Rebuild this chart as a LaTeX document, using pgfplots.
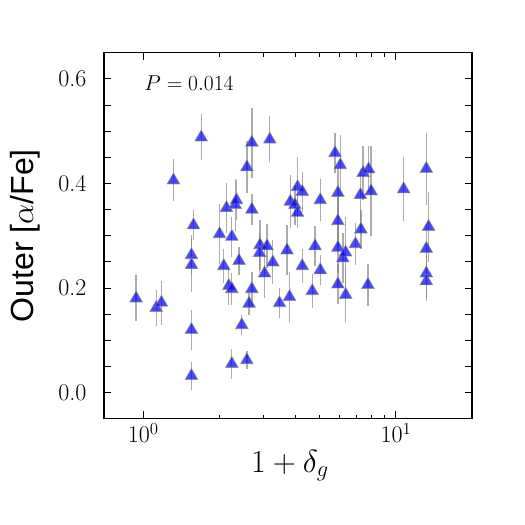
\RequirePackage{fix-cm}
\documentclass[border=0pt]{standalone}
\usepackage{pgfplots}
\pgfplotsset{compat=1.18}
\usepackage{pgfplotstable}
\usepackage{fontspec}
\newfontfamily\labelsans{Liberation Sans}
\usetikzlibrary{calc}

\pgfplotstableread{
x y e
0.938 0.180 0.044
1.126 0.162 0.034
1.181 0.172 0.042
1.318 0.406 0.040
1.697 0.488 0.044
1.553 0.263 0.038
1.553 0.244 0.051
1.553 0.120 0.038
1.553 0.032 0.027
1.582 0.320 0.029
2.005 0.303 0.057
2.085 0.242 0.032
2.136 0.353 0.048
2.182 0.204 0.036
2.243 0.198 0.030
2.243 0.298 0.038
2.243 0.055 0.029
2.313 0.359 0.050
2.341 0.368 0.038
2.395 0.252 0.027
2.457 0.129 0.019
2.572 0.431 0.050
2.572 0.062 0.017
2.624 0.170 0.021
2.692 0.478 0.067
2.692 0.350 0.029
2.692 0.198 0.032
2.900 0.282 0.048
2.887 0.267 0.038
3.091 0.280 0.042
3.022 0.228 0.048
3.171 0.484 0.044
3.259 0.249 0.042
3.464 0.171 0.029
3.709 0.272 0.048
3.795 0.183 0.048
3.819 0.365 0.051
3.983 0.359 0.038
4.082 0.393 0.057
4.261 0.384 0.038
4.082 0.344 0.029
4.261 0.242 0.032
4.667 0.194 0.032
4.788 0.280 0.038
5.020 0.368 0.040
5.020 0.234 0.029
5.744 0.458 0.038
6.025 0.435 0.057
5.894 0.382 0.048
5.894 0.328 0.048
5.894 0.277 0.048
5.894 0.207 0.038
6.169 0.257 0.048
6.322 0.268 0.067
6.330 0.187 0.053
6.916 0.284 0.040
7.238 0.378 0.050
7.270 0.312 0.038
7.418 0.420 0.051
7.798 0.427 0.044
7.978 0.385 0.086
7.749 0.206 0.040
10.73 0.389 0.061
13.19 0.428 0.069
13.47 0.317 0.067
13.19 0.275 0.048
13.19 0.228 0.048
13.19 0.213 0.038
}\datatable

\begin{document}
\begin{tikzpicture}
\begin{axis}[
  scale only axis, width=368pt, height=366pt,
  xmode=log, xmin=0.7, xmax=20, ymin=-0.05, ymax=0.65,
  xtick={1,10},
  ytick={0,0.05,0.1,0.15,0.2,0.25,0.3,0.35,0.4,0.45,0.5,0.55,0.6},
  yticklabels={0.0,,,,0.2,,,,0.4,,,,0.6},
  tick align=inside, major tick length=7.5pt, minor tick length=4pt,
  tick style={black, line width=0.9pt},
  axis line style={line width=1.6pt},
  ticklabel style={font=\fontsize{24}{28}\selectfont},
  yticklabel style={xshift=-14pt},
  xticklabel style={yshift=-1pt},
  xlabel={$1+\delta_g$},
  xlabel style={font=\fontsize{32}{36}\selectfont, at={(axis description cs:0.505,-0.128)}, anchor=center},
  ylabel={\labelsans Outer [$\alpha$/Fe]},
  ylabel style={font=\fontsize{32}{36}\selectfont, at={(axis description cs:-0.215,0.5)}, anchor=center},
  clip=false,
]
\addplot[only marks, mark=triangle*, mark size=7.2pt,
  mark options={fill=blue, fill opacity=0.72, draw=gray, draw opacity=0.7, line width=0.8pt},
  error bars/.cd, y dir=both, y explicit, error mark=none,
  error bar style={gray, line width=1.3pt, opacity=0.65}]
  table[x=x, y=y, y error=e]{\datatable};
\node[anchor=west, font=\fontsize{21.5}{24}\selectfont] at (rel axis cs:0.100,0.918) {$P = 0.014$};
\coordinate (SW) at (rel axis cs:0,0);
\coordinate (NE) at (rel axis cs:1,1);
\end{axis}
\pgfresetboundingbox
\path[use as bounding box] ($(SW)+(-104pt,-106pt)$) rectangle ($(NE)+(53pt,52.7pt)$);
\end{tikzpicture}
\end{document}
